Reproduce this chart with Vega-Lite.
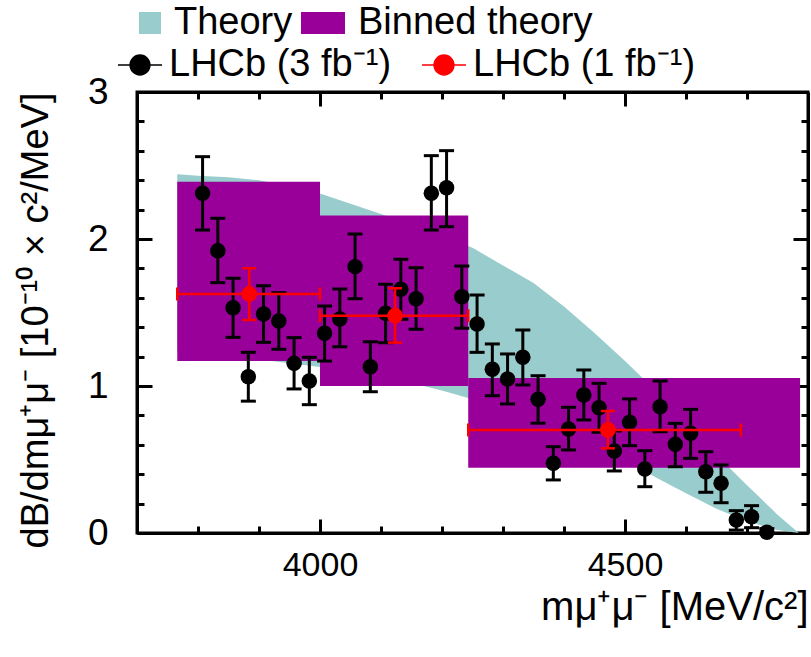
{
  "$schema": "https://vega.github.io/schema/vega-lite/v6.json",
  "width": 671,
  "height": 441,
  "autosize": {"type": "none"},
  "padding": {"left": 137, "top": 92, "right": 3, "bottom": 124},
  "background": "white",
  "config": {
    "font": "Liberation Sans",
    "view": {"stroke": "black", "strokeWidth": 3},
    "axis": {"grid": false, "domainColor": "black", "domainWidth": 3, "tickColor": "black", "tickWidth": 3, "labelColor": "black", "titleColor": "black", "titleFontWeight": "normal", "labelFont": "Liberation Sans", "titleFont": "Liberation Sans"},
    "legend": {"labelFont": "Liberation Sans", "labelColor": "black"}
  },
  "datasets": {
    "theory": [
      {"m": 3766, "lo": 1.235, "hi": 2.44},
      {"m": 3800, "lo": 1.22, "hi": 2.43},
      {"m": 3850, "lo": 1.2, "hi": 2.42},
      {"m": 3900, "lo": 1.18, "hi": 2.4},
      {"m": 3950, "lo": 1.155, "hi": 2.36},
      {"m": 4000, "lo": 1.13, "hi": 2.31},
      {"m": 4050, "lo": 1.1, "hi": 2.24},
      {"m": 4100, "lo": 1.06, "hi": 2.17},
      {"m": 4150, "lo": 1.02, "hi": 2.1},
      {"m": 4200, "lo": 0.97, "hi": 2.02},
      {"m": 4250, "lo": 0.91, "hi": 1.94},
      {"m": 4300, "lo": 0.85, "hi": 1.82},
      {"m": 4350, "lo": 0.78, "hi": 1.7},
      {"m": 4400, "lo": 0.7, "hi": 1.54},
      {"m": 4450, "lo": 0.6, "hi": 1.36},
      {"m": 4500, "lo": 0.5, "hi": 1.17},
      {"m": 4550, "lo": 0.38, "hi": 0.97},
      {"m": 4600, "lo": 0.27, "hi": 0.755},
      {"m": 4650, "lo": 0.165, "hi": 0.53},
      {"m": 4700, "lo": 0.08, "hi": 0.325},
      {"m": 4750, "lo": 0.02, "hi": 0.125},
      {"m": 4785, "lo": 0.0, "hi": 0.0}
    ],
    "binned": [
      {"m1": 3766, "m2": 4000, "lo": 1.17, "hi": 2.39},
      {"m1": 4000, "m2": 4243, "lo": 1.0, "hi": 2.16},
      {"m1": 4243, "m2": 4787, "lo": 0.444, "hi": 1.054}
    ],
    "lhcb3": [
      {"m": 3807.5, "v": 2.311, "lo": 2.061, "hi": 2.56},
      {"m": 3832.5, "v": 1.92, "lo": 1.703, "hi": 2.141},
      {"m": 3857.5, "v": 1.533, "lo": 1.331, "hi": 1.733},
      {"m": 3882.5, "v": 1.063, "lo": 0.897, "hi": 1.229},
      {"m": 3907.5, "v": 1.49, "lo": 1.297, "hi": 1.682},
      {"m": 3932.5, "v": 1.442, "lo": 1.25, "hi": 1.635},
      {"m": 3957.5, "v": 1.154, "lo": 0.98, "hi": 1.329},
      {"m": 3982.5, "v": 1.034, "lo": 0.873, "hi": 1.195},
      {"m": 4007.5, "v": 1.359, "lo": 1.17, "hi": 1.544},
      {"m": 4032.5, "v": 1.456, "lo": 1.267, "hi": 1.66},
      {"m": 4057.5, "v": 1.812, "lo": 1.594, "hi": 2.034},
      {"m": 4082.5, "v": 1.131, "lo": 0.961, "hi": 1.301},
      {"m": 4107.5, "v": 1.495, "lo": 1.295, "hi": 1.692},
      {"m": 4132.5, "v": 1.658, "lo": 1.454, "hi": 1.862},
      {"m": 4157.5, "v": 1.594, "lo": 1.386, "hi": 1.805},
      {"m": 4182.5, "v": 2.311, "lo": 2.061, "hi": 2.567},
      {"m": 4207.5, "v": 2.349, "lo": 2.084, "hi": 2.601},
      {"m": 4232.5, "v": 1.607, "lo": 1.393, "hi": 1.816},
      {"m": 4257.5, "v": 1.422, "lo": 1.229, "hi": 1.619},
      {"m": 4282.5, "v": 1.114, "lo": 0.934, "hi": 1.286},
      {"m": 4307.5, "v": 1.048, "lo": 0.878, "hi": 1.218},
      {"m": 4332.5, "v": 1.195, "lo": 1.007, "hi": 1.381},
      {"m": 4357.5, "v": 0.91, "lo": 0.747, "hi": 1.07},
      {"m": 4382.5, "v": 0.474, "lo": 0.361, "hi": 0.587},
      {"m": 4407.5, "v": 0.707, "lo": 0.565, "hi": 0.855},
      {"m": 4432.5, "v": 0.939, "lo": 0.769, "hi": 1.109},
      {"m": 4457.5, "v": 0.852, "lo": 0.685, "hi": 1.018},
      {"m": 4482.5, "v": 0.558, "lo": 0.422, "hi": 0.694},
      {"m": 4507.5, "v": 0.753, "lo": 0.594, "hi": 0.912},
      {"m": 4532.5, "v": 0.435, "lo": 0.315, "hi": 0.56},
      {"m": 4557.5, "v": 0.859, "lo": 0.689, "hi": 1.034},
      {"m": 4582.5, "v": 0.603, "lo": 0.451, "hi": 0.746},
      {"m": 4607.5, "v": 0.678, "lo": 0.508, "hi": 0.841},
      {"m": 4632.5, "v": 0.417, "lo": 0.277, "hi": 0.553},
      {"m": 4657.5, "v": 0.338, "lo": 0.206, "hi": 0.463},
      {"m": 4682.5, "v": 0.088, "lo": 0.02, "hi": 0.152},
      {"m": 4707.5, "v": 0.111, "lo": 0.036, "hi": 0.186},
      {"m": 4732.5, "v": 0.005, "lo": 0.0, "hi": 0.03}
    ],
    "lhcb1": [
      {"m": 3884, "m1": 3766, "m2": 4000, "v": 1.626, "lo": 1.449, "hi": 1.801},
      {"m": 4123, "m1": 4000, "m2": 4243, "v": 1.478, "lo": 1.295, "hi": 1.665},
      {"m": 4472, "m1": 4243, "m2": 4690, "v": 0.701, "lo": 0.576, "hi": 0.83}
    ]
  },
  "layer": [
    {
      "data": {"name": "theory"},
      "mark": {"type": "area"},
      "encoding": {
        "x": {"field": "m", "type": "quantitative", "scale": {"domain": [3700, 4800], "nice": false, "zero": false},
          "axis": {"orient": "bottom", "values": [3800, 3900, 4000, 4100, 4200, 4300, 4400, 4500, 4600, 4700], "format": "d",
            "labelExpr": "datum.value % 500 === 0 ? datum.label : ''", "labelFontSize": 34, "labelPadding": 29,
            "labelOverlap": false, "labelFlush": false, "labelBound": false,
            "tickSize": {"condition": {"test": "datum.value % 500 === 0", "value": -14}, "value": -7},
            "title": "mμ⁺μ⁻ [MeV/c²]", "titleFontSize": 40, "titleAnchor": "end", "titlePadding": -2}},
        "y": {"field": "lo", "type": "quantitative", "scale": {"domain": [0, 3], "nice": false, "zero": false},
          "axis": {"orient": "left", "values": [0, 0.2, 0.4, 0.6, 0.8, 1, 1.2, 1.4, 1.6, 1.8, 2, 2.2, 2.4, 2.6, 2.8, 3],
            "labelExpr": "datum.value % 1 === 0 ? format(datum.value, 'd') : ''", "labelFontSize": 37, "labelPadding": 44,
            "labelOverlap": false, "labelFlush": false, "labelBound": false,
            "tickSize": {"condition": {"test": "datum.value % 1 === 0", "value": -15}, "value": -7},
            "title": "dB/dmμ⁺μ⁻ [10⁻¹⁰ × c²/MeV]", "titleFontSize": 38, "titleAnchor": "end", "titlePadding": 32}},
        "y2": {"field": "hi"},
        "fill": {"datum": "Theory", "type": "nominal",
          "scale": {"domain": ["Theory", "Binned theory"], "range": ["#99cccc", "#990099"]},
          "legend": {"orient": "none", "legendX": -6, "legendY": -88, "direction": "horizontal", "title": null,
            "labelFontSize": 38, "labelOffset": 5, "columnPadding": -34, "symbolSize": 484, "padding": 0, "labelLimit": 400,
            "encode": {
              "symbols": {"update": {
                "shape": {"signal": "datum.value === 'Binned theory' ? 'M-1,-1H3V1H-1Z' : 'M-1,-1H1V1H-1Z'"},
                "fill": {"scale": "fill", "field": "value"},
                "stroke": {"value": "transparent"},
                "opacity": {"value": 1}}},
              "labels": {"update": {"dx": {"signal": "datum.value === 'Binned theory' ? 22 : 0"}}}
            }}}
      }
    },
    {
      "data": {"name": "binned"},
      "mark": {"type": "rect"},
      "encoding": {
        "x": {"field": "m1", "type": "quantitative", "axis": null},
        "x2": {"field": "m2"},
        "y": {"field": "lo", "type": "quantitative", "axis": null},
        "y2": {"field": "hi"},
        "fill": {"datum": "Binned theory", "type": "nominal"}
      }
    },
    {
      "data": {"name": "lhcb3"},
      "mark": {"type": "rule", "strokeWidth": 3},
      "encoding": {
        "x": {"field": "m", "type": "quantitative", "axis": null},
        "y": {"field": "lo", "type": "quantitative", "axis": null},
        "y2": {"field": "hi"},
        "color": {"datum": "LHCb (3 fb⁻¹)", "type": "nominal"}
      }
    },
    {
      "data": {"name": "lhcb3"},
      "mark": {"type": "tick", "orient": "horizontal", "size": 15, "thickness": 3, "opacity": 1},
      "encoding": {
        "x": {"field": "m", "type": "quantitative", "axis": null},
        "y": {"field": "hi", "type": "quantitative", "axis": null},
        "color": {"datum": "LHCb (3 fb⁻¹)", "type": "nominal"}
      }
    },
    {
      "data": {"name": "lhcb3"},
      "mark": {"type": "tick", "orient": "horizontal", "size": 15, "thickness": 3, "opacity": 1},
      "encoding": {
        "x": {"field": "m", "type": "quantitative", "axis": null},
        "y": {"field": "lo", "type": "quantitative", "axis": null},
        "color": {"datum": "LHCb (3 fb⁻¹)", "type": "nominal"}
      }
    },
    {
      "data": {"name": "lhcb3"},
      "mark": {"type": "circle", "size": 240, "opacity": 1},
      "encoding": {
        "x": {"field": "m", "type": "quantitative", "axis": null},
        "y": {"field": "v", "type": "quantitative", "axis": null},
        "color": {"datum": "LHCb (3 fb⁻¹)", "type": "nominal",
          "scale": {"domain": ["LHCb (3 fb⁻¹)", "LHCb (1 fb⁻¹)"], "range": ["#000000", "#ff0000"]},
          "legend": {"orient": "none", "legendX": -20, "legendY": -50, "direction": "horizontal", "title": null,
            "labelFontSize": 38, "labelOffset": 6, "columnPadding": 27, "symbolSize": 1936, "padding": 0, "labelLimit": 400,
            "symbolType": "M-1,0H1M-0.45,0A0.45,0.45,0,1,0,0.45,0A0.45,0.45,0,1,0,-0.45,0Z",
            "encode": {"symbols": {"update": {
              "shape": {"value": "M-1,0H1M-0.45,0A0.45,0.45,0,1,0,0.45,0A0.45,0.45,0,1,0,-0.45,0Z"},
              "fill": {"scale": "color", "field": "value"},
              "stroke": {"scale": "color", "field": "value"},
              "strokeWidth": {"value": 3.5},
              "opacity": {"value": 1}}}}}}
      }
    },
    {
      "data": {"name": "lhcb1"},
      "mark": {"type": "rule", "strokeWidth": 2.5},
      "encoding": {
        "x": {"field": "m", "type": "quantitative", "axis": null},
        "y": {"field": "lo", "type": "quantitative", "axis": null},
        "y2": {"field": "hi"},
        "color": {"datum": "LHCb (1 fb⁻¹)", "type": "nominal"}
      }
    },
    {
      "data": {"name": "lhcb1"},
      "mark": {"type": "rule", "strokeWidth": 2.5},
      "encoding": {
        "x": {"field": "m1", "type": "quantitative", "axis": null},
        "x2": {"field": "m2"},
        "y": {"field": "v", "type": "quantitative", "axis": null},
        "color": {"datum": "LHCb (1 fb⁻¹)", "type": "nominal"}
      }
    },
    {
      "data": {"name": "lhcb1"},
      "mark": {"type": "tick", "orient": "horizontal", "size": 14, "thickness": 2.5, "opacity": 1},
      "encoding": {
        "x": {"field": "m", "type": "quantitative", "axis": null},
        "y": {"field": "hi", "type": "quantitative", "axis": null},
        "color": {"datum": "LHCb (1 fb⁻¹)", "type": "nominal"}
      }
    },
    {
      "data": {"name": "lhcb1"},
      "mark": {"type": "tick", "orient": "horizontal", "size": 14, "thickness": 2.5, "opacity": 1},
      "encoding": {
        "x": {"field": "m", "type": "quantitative", "axis": null},
        "y": {"field": "lo", "type": "quantitative", "axis": null},
        "color": {"datum": "LHCb (1 fb⁻¹)", "type": "nominal"}
      }
    },
    {
      "data": {"name": "lhcb1"},
      "mark": {"type": "tick", "orient": "vertical", "size": 13, "thickness": 2.5, "opacity": 1},
      "encoding": {
        "x": {"field": "m1", "type": "quantitative", "axis": null},
        "y": {"field": "v", "type": "quantitative", "axis": null},
        "color": {"datum": "LHCb (1 fb⁻¹)", "type": "nominal"}
      }
    },
    {
      "data": {"name": "lhcb1"},
      "mark": {"type": "tick", "orient": "vertical", "size": 13, "thickness": 2.5, "opacity": 1},
      "encoding": {
        "x": {"field": "m2", "type": "quantitative", "axis": null},
        "y": {"field": "v", "type": "quantitative", "axis": null},
        "color": {"datum": "LHCb (1 fb⁻¹)", "type": "nominal"}
      }
    },
    {
      "data": {"name": "lhcb1"},
      "mark": {"type": "circle", "size": 250, "opacity": 1},
      "encoding": {
        "x": {"field": "m", "type": "quantitative", "axis": null},
        "y": {"field": "v", "type": "quantitative", "axis": null},
        "color": {"datum": "LHCb (1 fb⁻¹)", "type": "nominal"}
      }
    },
    {
      "mark": {"type": "text", "text": "LHCb", "fontSize": 45, "font": "Liberation Sans", "color": "black", "align": "center", "baseline": "middle"},
      "encoding": {
        "x": {"datum": 4626, "type": "quantitative",
          "axis": {"orient": "top", "values": [3800, 3900, 4000, 4100, 4200, 4300, 4400, 4500, 4600, 4700], "labels": false, "title": null,
            "tickSize": {"condition": {"test": "datum.value % 500 === 0", "value": -14}, "value": -7}}},
        "y": {"datum": 2.56, "type": "quantitative",
          "axis": {"orient": "right", "values": [0, 0.2, 0.4, 0.6, 0.8, 1, 1.2, 1.4, 1.6, 1.8, 2, 2.2, 2.4, 2.6, 2.8, 3], "labels": false, "title": null,
            "tickSize": {"condition": {"test": "datum.value % 1 === 0", "value": -15}, "value": -7}}}
      }
    }
  ],
  "resolve": {"axis": {"x": "independent", "y": "independent"}}
}
